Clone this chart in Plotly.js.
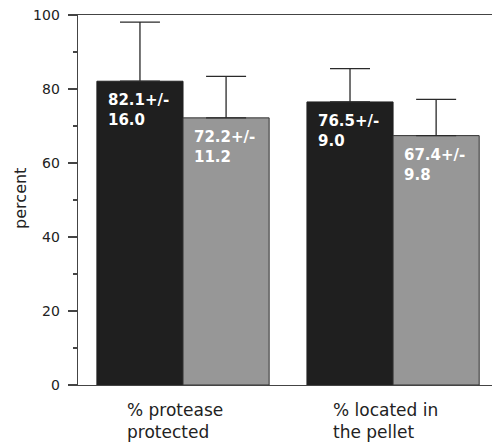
<!DOCTYPE html>
<html>
<head>
<meta charset="utf-8">
<script src="https://cdn.plot.ly/plotly-3.0.1.min.js"></script>
<style>html,body{margin:0;padding:0;background:#fff;}#chart{width:492px;height:444px;}</style>
</head>
<body>
<div id="chart"></div>
<script>
var categories = ["% protease<br>protected", "% located in<br>the pellet"];
var darkValues = [82.1, 76.5];
var darkErrors = [16.0, 9.0];
var grayValues = [72.2, 67.4];
var grayErrors = [11.2, 9.8];
var yTickVals = [0, 20, 40, 60, 80, 100];

var font = "DejaVu Sans, Arial, sans-serif";
var catIdx = categories.map(function(c, i){ return i; });

var errStyle = {type: 'data', symmetric: false, arrayminus: [0, 0], color: '#2a2a2a', thickness: 1.3, width: 20};

var traces = [
  {type: 'bar', x: catIdx, y: darkValues, marker: {color: '#1f1f1f', line: {color: '#222', width: 1}},
   error_y: Object.assign({array: darkErrors}, errStyle), hoverinfo: 'none'},
  {type: 'bar', x: catIdx, y: grayValues, marker: {color: '#979797', line: {color: '#333', width: 1}},
   error_y: Object.assign({array: grayErrors}, errStyle), hoverinfo: 'none'}
];

var annotations = [];
var bw = (1 - 0.18) / 2;
function barLabel(vals, errs, offset) {
  vals.forEach(function(v, i){
    annotations.push({
      x: i + offset, xref: 'x', y: v, yref: 'y', xanchor: 'left', yanchor: 'top', align: 'left',
      xshift: 9, yshift: -8, showarrow: false,
      text: '<b>' + v.toFixed(1) + '+/-<br>' + errs[i].toFixed(1) + '</b>',
      font: {family: font, size: 15, color: '#ffffff'}
    });
  });
}
barLabel(darkValues, darkErrors, -bw);
barLabel(grayValues, grayErrors, 0);

categories.forEach(function(c, i){
  annotations.push({
    x: i, xref: 'x', y: 0, yref: 'paper', xanchor: 'center', yanchor: 'top', align: 'left',
    xshift: -8, yshift: -13, showarrow: false, text: c,
    font: {family: font, size: 17, color: '#222'}
  });
});

annotations.push({
  x: 0, xref: 'paper', y: 0.503, yref: 'paper', xanchor: 'center', yanchor: 'middle',
  xshift: -57, showarrow: false, textangle: -90, text: 'percent',
  font: {family: font, size: 16, color: '#222'}
});

var layout = {
  width: 492, height: 444,
  margin: {l: 78, r: 0, t: 15, b: 59, pad: 0},
  paper_bgcolor: '#fff', plot_bgcolor: '#fff',
  showlegend: false,
  barmode: 'group', bargap: 0.18, bargroupgap: 0,
  xaxis: {range: [-0.5, 1.471], showticklabels: false, ticks: '', showgrid: false, zeroline: false,
          showline: true, mirror: true, linecolor: '#444', linewidth: 1.2},
  yaxis: {range: [0, 100], tickvals: yTickVals, ticks: 'outside', ticklen: 9, tickcolor: '#444', tickwidth: 1.2,
          showgrid: false, zeroline: false, showline: true, linecolor: '#444', linewidth: 1.4,
          ticklabelstandoff: 5,
          tickfont: {family: font, size: 14, color: '#222'},
          minor: {dtick: 10, ticks: 'outside', ticklen: 4, tickcolor: '#444', showgrid: false}},
  annotations: annotations
};

Plotly.newPlot('chart', traces, layout, {staticPlot: true, displayModeBar: false});
</script>
</body>
</html>
